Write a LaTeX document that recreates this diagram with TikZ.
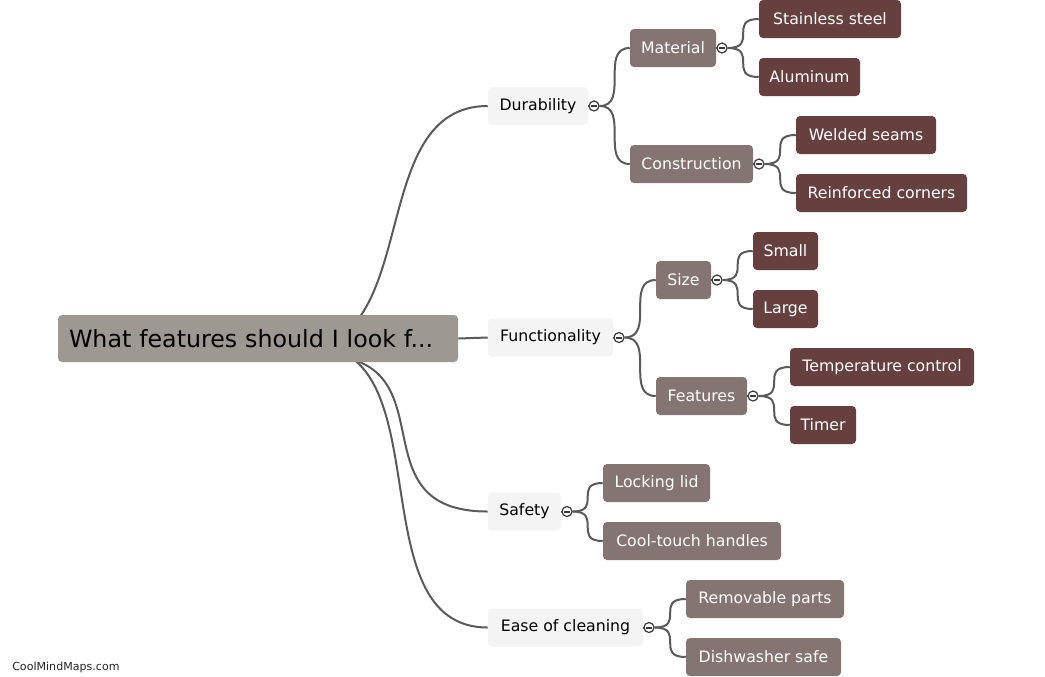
\documentclass[tikz,border=0pt]{standalone}
\usepackage{fontspec}
\setmainfont{DejaVu Sans}
\usetikzlibrary{backgrounds,calc}
\newdimen\px \px=0.75pt
\definecolor{rootc}{HTML}{9E9893}
\definecolor{lonec}{HTML}{F4F4F4}
\definecolor{ltwoc}{HTML}{857572}
\definecolor{lthreec}{HTML}{66403E}
\definecolor{edgec}{HTML}{5A5A5A}
\definecolor{togc}{HTML}{3A3A3A}
\newcommand\scurve[2]{\draw[conn] let \p1=(#1.east), \p2=(#2.west) in (\p1) .. controls (\x2,\y1) and (\x1,\y2) .. (\p2);}
\begin{document}
\begin{tikzpicture}[x=0.75pt,y=-0.75pt,
  box/.style={rectangle, rounded corners=3pt, minimum height=38*\px, inner xsep=0pt, inner ysep=0pt, font=\fontsize{11.8pt}{14pt}\selectfont},
  lone/.style={box, fill=lonec, text=black},
  ltwo/.style={box, fill=ltwoc, text=white},
  lthree/.style={box, fill=lthreec, text=white},
  rootbox/.style={rectangle, rounded corners=3pt, fill=rootc, text=black, minimum height=47*\px, text width=378*\px, align=left, inner xsep=11*\px, inner ysep=0pt, font=\fontsize{17.8pt}{20pt}\selectfont},
  tog/.style={circle, draw=togc, line width=0.9pt, fill=white, minimum size=10*\px, inner sep=0pt,
    path picture={\draw[togc, line width=1.5pt] ([xshift=-2.6*\px]path picture bounding box.center) -- ([xshift=2.6*\px]path picture bounding box.center);}},
  conn/.style={draw=edgec, line width=1.5pt}
]
\useasboundingbox (0,0) rectangle (1045,676);

% root
\node[rootbox] (root) at (258,338.5) {What features should I look f...};

% level 1
\node[lone, minimum width=100*\px] (dur) at (538,106) {Durability};
\node[lone, minimum width=125*\px] (fun) at (550.5,337.5) {Functionality};
\node[lone, minimum width=73*\px] (saf) at (524.5,511.5) {Safety};
\node[lone, minimum width=155*\px] (eas) at (565.5,627.5) {Ease of cleaning};

% level 2
\node[ltwo, minimum width=86*\px] (mat) at (673,48) {Material};
\node[ltwo, minimum width=123*\px] (con) at (691.5,164) {Construction};
\node[ltwo, minimum width=55*\px] (siz) at (683.5,280) {Size};
\node[ltwo, minimum width=91*\px] (fea) at (701.5,396) {Features};
\node[ltwo, minimum width=107*\px] (loc) at (656.5,483) {Locking lid};
\node[ltwo, minimum width=178*\px] (coo) at (692,541) {Cool-touch handles};
\node[ltwo, minimum width=158*\px] (rem) at (765,599) {Removable parts};
\node[ltwo, minimum width=155*\px] (dis) at (763.5,657) {Dishwasher safe};

% level 3
\node[lthree, minimum width=142*\px] (sta) at (830,19) {Stainless steel};
\node[lthree, minimum width=101*\px] (alu) at (809.5,77) {Aluminum};
\node[lthree, minimum width=140*\px] (wel) at (866,135) {Welded seams};
\node[lthree, minimum width=171*\px] (rei) at (881.5,193) {Reinforced corners};
\node[lthree, minimum width=65*\px] (sma) at (785.5,251) {Small};
\node[lthree, minimum width=65*\px] (lar) at (785.5,309) {Large};
\node[lthree, minimum width=184*\px] (tem) at (882,367) {Temperature control};
\node[lthree, minimum width=66*\px] (tim) at (823,425) {Timer};

% toggles
\node[tog] (tdur) at (594,106) {};
\node[tog] (tfun) at (619,337.5) {};
\node[tog] (tsaf) at (567,511.5) {};
\node[tog] (teas) at (649,627.5) {};
\node[tog] (tmat) at (722,48) {};
\node[tog] (tcon) at (759,164) {};
\node[tog] (tsiz) at (717,280) {};
\node[tog] (tfea) at (753,396) {};

% watermark
\node[anchor=west, inner sep=0pt, text=black!85, font=\fontsize{8.3pt}{9pt}\selectfont] (wm) at (12,667) {CoolMindMaps.com};

% hidden start points of root connectors
\coordinate (rsa) at (300,348);
\coordinate (rsb) at (318,355);
\coordinate (rsc) at (312,346);

\begin{scope}[on background layer]
  \fill[white] (0,0) rectangle (1045,676);
  \draw[conn] (rsa) .. controls (424,348) and (364,106) .. (dur.west);
  \draw[conn] (root.east) -- (fun.west);
  \draw[conn] (rsb) .. controls (455,355) and (351,511.5) .. (saf.west);
  \draw[conn] (rsc) .. controls (444,346) and (356,627.5) .. (eas.west);
  \draw[conn] (dur.east) -- (tdur.west);
  \draw[conn] (fun.east) -- (tfun.west);
  \draw[conn] (saf.east) -- (tsaf.west);
  \draw[conn] (eas.east) -- (teas.west);
  \draw[conn] (mat.east) -- (tmat.west);
  \draw[conn] (con.east) -- (tcon.west);
  \draw[conn] (siz.east) -- (tsiz.west);
  \draw[conn] (fea.east) -- (tfea.west);
  \scurve{tdur}{mat}
  \scurve{tdur}{con}
  \scurve{tmat}{sta}
  \scurve{tmat}{alu}
  \scurve{tcon}{wel}
  \scurve{tcon}{rei}
  \scurve{tfun}{siz}
  \scurve{tfun}{fea}
  \scurve{tsiz}{sma}
  \scurve{tsiz}{lar}
  \scurve{tfea}{tem}
  \scurve{tfea}{tim}
  \scurve{tsaf}{loc}
  \scurve{tsaf}{coo}
  \scurve{teas}{rem}
  \scurve{teas}{dis}
\end{scope}
\end{tikzpicture}
\end{document}
